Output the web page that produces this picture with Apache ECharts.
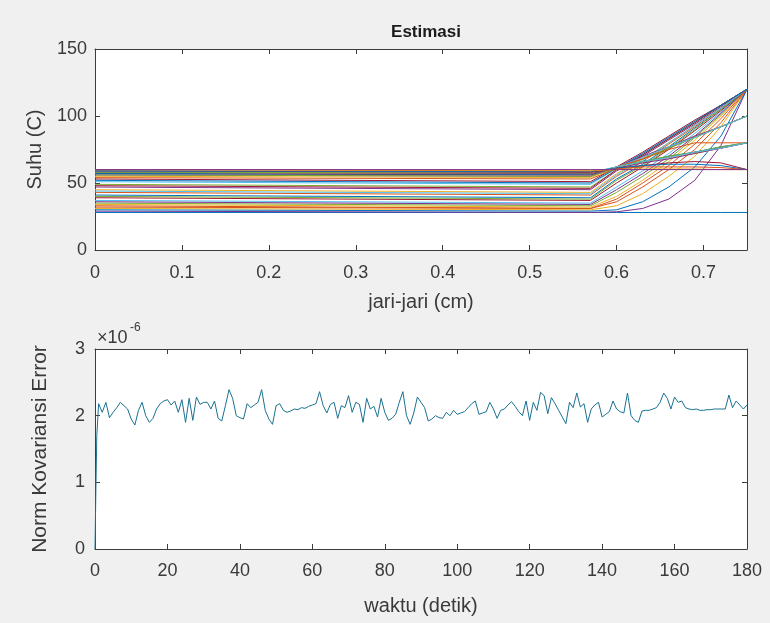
<!DOCTYPE html>
<html>
<head>
<meta charset="utf-8">
<script src="https://cdn.jsdelivr.net/npm/echarts@6/dist/echarts.min.js"></script>
<style>
html,body{margin:0;padding:0;background:#f0f0f0;}
#chart{width:770px;height:623px;}
</style>
</head>
<body>
<div id="chart"></div>
<script>
// ---------- DATA ----------
const judul = 'Estimasi';
const xLabelAtas = 'jari-jari (cm)';
const yLabelAtas = 'Suhu (C)';
const xLabelBawah = 'waktu (detik)';
const yLabelBawah = 'Norm Kovariansi Error';

// radius grid (cm) at which each temperature profile is read
const jariJari = [0, 0.57, 0.6, 0.63, 0.66, 0.69, 0.72, 0.75];

// temperature profiles (C), one per time step
const suhuProfil = [
  [28, 28, 28, 28, 28, 28, 28, 28],
  [33, 31, 38, 50, 63, 79, 98, 120],
  [31, 30, 33, 42, 55, 70, 92, 120],
  [29, 28, 28.5, 31, 38, 52, 78, 120],
  [35, 33, 43, 55, 68, 84, 101, 120],
  [37, 35, 47, 59, 72, 87, 103, 120],
  [39, 37, 50, 62, 75, 89, 104, 120],
  [41, 39, 53, 64, 77, 91, 105, 120],
  [43, 41, 55, 66, 79, 92, 106, 120],
  [45, 43, 57, 68, 80, 93, 107, 120],
  [47, 45, 59, 70, 82, 94, 107, 120],
  [49, 47, 60, 71, 83, 95, 108, 120],
  [51, 49, 61, 72, 84, 96, 108, 120],
  [53, 51, 62, 73, 85, 97, 108, 120],
  [30, 29, 30, 36, 47, 62, 85, 120],
  [32, 31, 36, 47, 60, 75, 95, 120],
  [34, 32, 40, 52, 66, 82, 100, 120],
  [36, 34, 45, 57, 70, 85, 102, 120],
  [40, 38, 52, 63, 76, 90, 105, 120],
  [44, 42, 56, 67, 80, 93, 106, 120],
  [48, 46, 60, 71, 83, 95, 108, 120],
  [52, 50, 61, 72, 84, 96, 108, 120],
  [54, 53, 61, 68, 76, 84, 92, 100],
  [55, 54, 62, 69, 77, 85, 92, 100],
  [56, 55, 62, 70, 77, 85, 92, 100],
  [56, 55, 61, 68, 76, 84, 92, 100],
  [57, 56, 62, 69, 77, 84, 92, 100],
  [57, 56, 62, 66, 69, 73, 76, 80],
  [57, 56.5, 62, 66, 70, 73, 77, 80],
  [58, 57, 62, 68, 75, 80, 80, 80],
  [58, 57, 62, 65, 69, 72, 76, 80],
  [58, 57, 61, 65, 68, 72, 76, 80],
  [58, 57.5, 62, 66, 70, 73, 77, 80],
  [59, 58, 62, 66, 69, 73, 76, 80],
  [59, 58, 61, 63, 65, 66, 65, 60],
  [59, 58.5, 61, 63, 64, 64, 63, 60],
  [60, 59, 60.5, 62, 62, 62, 61.5, 60],
  [60, 59.5, 60, 60.5, 60.5, 60.5, 60, 60],
  [60, 60, 60, 60, 60, 60, 60, 60]
];

// covariance error norm (x1e-6): start-up samples then one per second (t = 1..180)
const waktuAwal = [0, 0.25, 0.5];
const errorAwal = [0, 0.9, 1.7];
const errorPerDetik = [
  2.18, 2.05, 2.2, 1.97, 2.05, 2.12, 2.2, 2.15, 2.1, 1.95,
  1.86, 2.08, 2.2, 2.0, 1.9, 1.96, 2.1, 2.18, 2.22, 2.24,
  2.16, 2.22, 2.05, 2.24, 1.9, 2.26, 1.93, 2.28, 2.17, 2.2,
  2.2, 2.1, 2.22, 1.96, 1.92, 2.15, 2.39, 2.26, 2.0, 1.97,
  1.95, 2.18, 2.12, 2.16, 2.2, 2.39, 2.08, 1.95, 1.87, 2.15,
  2.18, 2.08, 2.05, 2.07, 2.1, 2.09, 2.12, 2.11, 2.14, 2.16,
  2.18, 2.36, 2.15, 2.04, 2.17, 2.2, 1.96, 2.15, 2.12, 2.3,
  2.05, 2.2, 2.17, 1.9, 2.26, 2.1, 2.14, 1.98, 2.26, 2.05,
  1.93, 1.96, 2.02, 2.2, 2.36, 2.0, 1.87, 2.04, 2.28, 2.2,
  2.12, 1.92, 1.95, 2.0, 1.97, 1.96, 2.05, 2.0, 2.08, 2.02,
  2.04, 2.06, 2.12, 2.18, 2.22, 2.02, 2.04, 2.06, 2.2, 2.1,
  1.96, 2.08, 2.1, 2.16, 2.21, 2.14, 2.06, 2.0, 2.22, 1.93,
  2.2, 2.08, 2.35, 2.3, 2.03, 2.27, 2.18, 2.08, 1.98, 1.88,
  2.2, 2.12, 2.34, 2.13, 2.18, 1.9, 2.1, 2.16, 2.2, 1.98,
  2.02, 2.06, 2.22, 2.1, 2.06, 2.04, 2.34, 2.0, 1.93, 1.9,
  2.07, 2.08, 2.08, 2.1, 2.12, 2.2, 2.34, 2.26, 2.1, 2.28,
  2.2, 2.22, 2.12, 2.1, 2.09, 2.1, 2.08, 2.08, 2.09, 2.09,
  2.1, 2.1, 2.1, 2.1, 2.31, 2.12, 2.22, 2.16, 2.1, 2.16
];

// ---------- STYLE ----------
const warna = ['#0072BD','#D95319','#EDB120','#7E2F8E','#77AC30','#4DBEEE','#A2142F'];
const axisCol = '#3c3c3c';
const textCol = '#3a3a3a';
const fontFam = '"Liberation Sans", Arial, Helvetica, sans-serif';

function mainAxis(extra) {
  return Object.assign({
    type: 'value',
    axisLine: { show: true, onZero: false, lineStyle: { color: axisCol, width: 1 } },
    axisTick: { show: true, inside: true, length: 5, lineStyle: { color: axisCol } },
    axisLabel: { color: textCol, fontSize: 18, fontFamily: fontFam },
    splitLine: { show: false },
    nameLocation: 'middle',
    nameTextStyle: { color: textCol, fontSize: 20, fontFamily: fontFam }
  }, extra);
}
function mirrorAxis(extra) {
  return Object.assign({
    type: 'value',
    axisLine: { show: true, onZero: false, lineStyle: { color: axisCol, width: 1 } },
    axisTick: { show: true, inside: true, length: 5, lineStyle: { color: axisCol } },
    axisLabel: { show: false },
    splitLine: { show: false }
  }, extra);
}

const series = [];
suhuProfil.forEach((prof, i) => {
  series.push({
    type: 'line', xAxisIndex: 0, yAxisIndex: 0,
    data: prof.map((v, k) => [jariJari[k], v]),
    showSymbol: false, symbol: 'none',
    lineStyle: { width: 1, color: warna[i % warna.length] },
    silent: true, z: 2
  });
});
const dataBawah = waktuAwal.map((t, k) => [t, errorAwal[k]])
  .concat(errorPerDetik.map((v, k) => [k + 1, v]));
series.push({
  type: 'line', xAxisIndex: 2, yAxisIndex: 2,
  data: dataBawah,
  showSymbol: false, symbol: 'none',
  lineStyle: { width: 1, color: '#1a7190' },
  silent: true, z: 2
});

const option = {
  backgroundColor: '#f0f0f0',
  animation: false,
  title: {
    text: judul, left: 421, top: 19, textAlign: 'center',
    textStyle: { fontSize: 17, fontWeight: 'bold', color: '#1a1a1a', fontFamily: fontFam }
  },
  grid: [
    { left: 95, top: 49, width: 652, height: 201, show: true, backgroundColor: '#ffffff', borderWidth: 0 },
    { left: 95, top: 349, width: 652, height: 200, show: true, backgroundColor: '#ffffff', borderWidth: 0 }
  ],
  xAxis: [
    mainAxis({ gridIndex: 0, min: 0, max: 0.75, interval: 0.1, position: 'bottom',
      axisLabel: { color: textCol, fontSize: 18, fontFamily: fontFam, showMaxLabel: false, margin: 14 },
      name: xLabelAtas, nameGap: 42 }),
    mirrorAxis({ gridIndex: 0, min: 0, max: 0.75, interval: 0.1, position: 'top' }),
    mainAxis({ gridIndex: 1, min: 0, max: 180, interval: 20, position: 'bottom',
      axisLabel: { color: textCol, fontSize: 18, fontFamily: fontFam, margin: 13 },
      name: xLabelBawah, nameGap: 47 }),
    mirrorAxis({ gridIndex: 1, min: 0, max: 180, interval: 20, position: 'top' })
  ],
  yAxis: [
    mainAxis({ gridIndex: 0, min: 0, max: 150, interval: 50, position: 'left',
      axisLabel: { color: textCol, fontSize: 18, fontFamily: fontFam, margin: 8 },
      name: yLabelAtas, nameGap: 50 }),
    mirrorAxis({ gridIndex: 0, min: 0, max: 150, interval: 50, position: 'right' }),
    mainAxis({ gridIndex: 1, min: 0, max: 3, interval: 1, position: 'left',
      axisLabel: { color: textCol, fontSize: 18, fontFamily: fontFam, margin: 10 },
      name: yLabelBawah, nameGap: 44, nameTextStyle: { color: textCol, fontSize: 21, fontFamily: fontFam } }),
    mirrorAxis({ gridIndex: 1, min: 0, max: 3, interval: 1, position: 'right' })
  ],
  graphic: [
    { type: 'text', left: 97, top: 329, z: 10,
      style: { text: '×10', fill: textCol, fontSize: 18, fontFamily: fontFam } },
    { type: 'text', left: 130, top: 322, z: 10,
      style: { text: '-6', fill: textCol, fontSize: 12, fontFamily: fontFam } }
  ],
  series: series
};

const chart = echarts.init(document.getElementById('chart'), null, { renderer: 'canvas' });
chart.setOption(option);
</script>
</body>
</html>
